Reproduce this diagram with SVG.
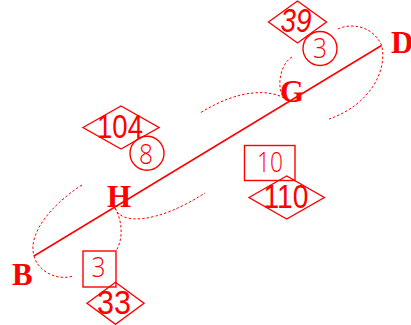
<svg xmlns="http://www.w3.org/2000/svg" width="411" height="325" viewBox="0 0 411 325">
<style>
.lbl{font-family:"Liberation Serif",serif;font-weight:bold;font-size:31px;fill:#ff0000}
.big{font-family:"Liberation Sans",Arial,sans-serif;font-size:34px;fill:#ff0000;text-anchor:middle}
.small{font-family:"Open Sans","Liberation Sans",sans-serif;font-weight:300;font-size:28px;fill:#ff0000;text-anchor:middle}
.shape{fill:none;stroke:#ff0000;stroke-width:1.4}
.main{fill:none;stroke:#ff0000;stroke-width:1.5}
.dot{fill:none;stroke:#ff0000;stroke-width:1;stroke-dasharray:2.5,2}
</style>
<rect width="411" height="325" fill="#ffffff"/>
<g id="connectors">
<path class="main" d="M34,256 L381.5,45.5"/>
<path class="dot" d="M338,29 C350,23 372,25 381.5,45 C388,70 370,105 329,119"/>
<path class="dot" d="M292,57 C280,64 276,88 284,98"/>
<path class="dot" d="M284,98 C270,90 240,88 200,113"/>
<path class="dot" d="M115,208 C120,224 155,225 205,193"/>
<path class="dot" d="M115,208 C123,222 123,240 116,251"/>
<path class="dot" d="M82,185 C55,202 27,232 34,256"/>
<path class="dot" d="M34,256 C38,272 58,281 73,276"/>
</g>
<g id="node-B"><text class="lbl" x="12" y="285">B</text></g>
<g id="node-H"><text class="lbl" x="107" y="207">H</text></g>
<g id="node-G"><text class="lbl" x="280" y="102">G</text></g>
<g id="node-D"><text class="lbl" x="391" y="53">D</text></g>
<g id="tag-39">
<polygon class="shape" points="268.5,22 297.5,1 326.5,22 297.5,43"/>
<text class="big" x="296" y="32" font-style="italic" textLength="31" lengthAdjust="spacingAndGlyphs">39</text>
</g>
<g id="tag-3a">
<circle class="shape" cx="320" cy="48.5" r="17"/>
<text class="small" x="320" y="57.5" textLength="14" lengthAdjust="spacingAndGlyphs">3</text>
</g>
<g id="tag-104">
<polygon class="shape" points="83,127.5 121,106 159,127.5 121,149"/>
<text class="big" x="120" y="138.3" textLength="46" lengthAdjust="spacingAndGlyphs">104</text>
</g>
<g id="tag-8">
<circle class="shape" cx="147" cy="153.3" r="17"/>
<text class="small" x="146" y="164" textLength="14" lengthAdjust="spacingAndGlyphs">8</text>
</g>
<g id="tag-10">
<rect class="shape" x="244.5" y="145.5" width="50.5" height="35"/>
<text class="small" x="270" y="171.7" textLength="26" lengthAdjust="spacingAndGlyphs">10</text>
</g>
<g id="tag-110">
<polygon class="shape" points="249,197.5 286.7,176 324.3,197.5 286.7,219"/>
<text class="big" x="286" y="207.7" textLength="45" lengthAdjust="spacingAndGlyphs">110</text>
</g>
<g id="tag-3b">
<rect class="shape" x="83" y="251" width="33" height="36"/>
<text class="small" x="98.5" y="277.3" textLength="14" lengthAdjust="spacingAndGlyphs">3</text>
</g>
<g id="tag-33">
<polygon class="shape" points="87,303.3 115.5,282.3 144,303.3 115.5,324.3"/>
<text class="big" x="114" y="314" textLength="34" lengthAdjust="spacingAndGlyphs">33</text>
</g>
</svg>
